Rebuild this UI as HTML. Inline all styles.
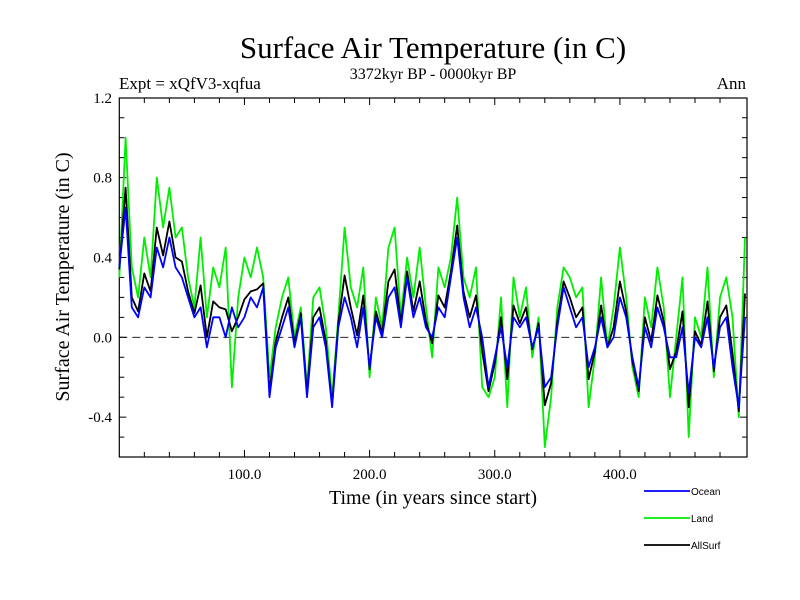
<!DOCTYPE html>
<html><head><meta charset="utf-8"><style>
body{margin:0;background:#fff}
svg{display:block}
</style></head><body>
<svg id="chart" width="800" height="600" xmlns="http://www.w3.org/2000/svg">
<text x="433" y="58" font-family="Liberation Serif, serif" font-size="31" text-anchor="middle">Surface Air Temperature (in C)</text>
<text x="433" y="79" font-family="Liberation Serif, serif" font-size="16" text-anchor="middle">3372kyr BP - 0000kyr BP</text>
<text x="119" y="89" font-family="Liberation Serif, serif" font-size="17">Expt = xQfV3-xqfua</text>
<text x="746" y="89" font-family="Liberation Serif, serif" font-size="17" text-anchor="end">Ann</text>
<text transform="translate(69,277) rotate(-90)" font-family="Liberation Serif, serif" font-size="20" text-anchor="middle">Surface Air Temperature (in C)</text>
<text x="433" y="504" font-family="Liberation Serif, serif" font-size="20" text-anchor="middle">Time (in years since start)</text>
<g id="axes"></g>
<g id="series"></g>
<g id="legend"></g>
</svg>
<script>
const years=[];for(let t=0;t<=500;t+=5)years.push(t);
const ocean=[0.35,0.65,0.15,0.1,0.25,0.2,0.45,0.35,0.5,0.35,
0.3,0.2,0.1,0.15,-0.05,0.1,0.1,0.0,0.15,0.05,
0.1,0.2,0.15,0.25,-0.3,-0.05,0.05,0.15,-0.05,0.1,
-0.3,0.05,0.1,-0.05,-0.35,0.05,0.2,0.1,-0.05,0.15,
-0.15,0.1,0.0,0.2,0.25,0.05,0.3,0.1,0.2,0.05,
0.0,0.15,0.1,0.3,0.5,0.2,0.05,0.15,0.0,-0.25,
-0.1,0.05,-0.15,0.1,0.05,0.1,-0.05,0.05,-0.25,-0.2,
0.05,0.25,0.15,0.05,0.1,-0.15,-0.05,0.1,-0.05,0.0,
0.2,0.1,-0.1,-0.25,0.05,-0.05,0.15,0.05,-0.1,-0.1,
0.05,-0.28,0.0,-0.05,0.1,-0.15,0.05,0.1,-0.15,-0.35,0.1];
const land=[0.3,1.0,0.35,0.2,0.5,0.3,0.8,0.55,0.75,0.5,
0.55,0.3,0.15,0.5,0.1,0.35,0.25,0.45,-0.25,0.2,
0.4,0.3,0.45,0.3,-0.2,0.05,0.2,0.3,0.0,0.15,
-0.25,0.2,0.25,0.05,-0.3,0.1,0.55,0.25,0.15,0.35,
-0.2,0.2,0.05,0.45,0.55,0.1,0.4,0.2,0.45,0.15,
-0.1,0.35,0.25,0.4,0.7,0.3,0.2,0.35,-0.25,-0.3,
-0.2,0.2,-0.35,0.3,0.1,0.25,-0.1,0.1,-0.55,-0.3,
0.15,0.35,0.3,0.2,0.25,-0.35,-0.1,0.3,-0.05,0.15,
0.45,0.2,-0.15,-0.3,0.2,0.05,0.35,0.15,-0.3,0.0,
0.3,-0.5,0.1,0.0,0.35,-0.2,0.2,0.3,0.1,-0.4,0.5];
const allSurf=[0.34,0.75,0.2,0.13,0.32,0.23,0.55,0.41,0.58,0.4,
0.38,0.23,0.12,0.26,0.0,0.18,0.15,0.14,0.03,0.1,
0.19,0.23,0.24,0.27,-0.27,-0.02,0.1,0.2,-0.03,0.12,
-0.28,0.1,0.15,-0.02,-0.34,0.07,0.31,0.15,0.01,0.21,
-0.16,0.13,0.02,0.28,0.34,0.07,0.33,0.13,0.28,0.08,
-0.03,0.21,0.15,0.33,0.56,0.23,0.1,0.21,-0.07,-0.27,
-0.13,0.1,-0.21,0.16,0.07,0.15,-0.06,0.07,-0.34,-0.23,
0.08,0.28,0.2,0.1,0.15,-0.21,-0.07,0.16,-0.05,0.05,
0.28,0.13,-0.12,-0.27,0.1,-0.02,0.21,0.08,-0.16,-0.07,
0.13,-0.35,0.03,-0.04,0.18,-0.17,0.1,0.16,-0.08,-0.37,0.22];
const xTicks=[100,200,300,400];
const xTickLabels=["100.0","200.0","300.0","400.0"];
const yTicks=[-0.4,0.0,0.4,0.8,1.2];
const yTickLabels=["-0.4","0.0","0.4","0.8","1.2"];
const legendNames=["Ocean","Land","AllSurf"];

const L=119.3,R=747,T=98,B=457;
const xs=v=>L+v*1.2515;
const ys=v=>337.3-v*199.6;
const NS="http://www.w3.org/2000/svg";
function mk(tag,attrs,parent){const e=document.createElementNS(NS,tag);for(const k in attrs)e.setAttribute(k,attrs[k]);parent.appendChild(e);return e;}
const axes=document.getElementById('axes');
const frame=mk('rect',{x:L,y:T,width:R-L,height:B-T,fill:'none',stroke:'#000','stroke-width':1.2},axes);


const zl=mk('line',{x1:L,x2:R,y1:ys(0),y2:ys(0),stroke:'#000','stroke-dasharray':'8,5','stroke-width':0.8},axes);


for(let t=20;t<500;t+=20){const maj=t%100===0;const len=maj?7:5;
 mk('line',{x1:xs(t),x2:xs(t),y1:B,y2:B-len,stroke:'#000'},axes);
 mk('line',{x1:xs(t),x2:xs(t),y1:T,y2:T+len,stroke:'#000'},axes);}
for(let i=-5;i<=11;i++){const v=i/10;const maj=(i%4===0);const len=maj?7:5;
 mk('line',{x1:L,x2:L+len,y1:ys(v),y2:ys(v),stroke:'#000'},axes);
 mk('line',{x1:R,x2:R-len,y1:ys(v),y2:ys(v),stroke:'#000'},axes);}
xTicks.forEach((t,i)=>{const e=mk('text',{x:xs(t),y:479,'font-family':'Liberation Serif, serif','font-size':15,'text-anchor':'middle'},axes);e.textContent=xTickLabels[i];
 
 });
yTicks.forEach((v,i)=>{const e=mk('text',{x:112,y:ys(v)+5,'font-family':'Liberation Serif, serif','font-size':15,'text-anchor':'end'},axes);e.textContent=yTickLabels[i];
 
 });
const series=document.getElementById('series');
function line(vals,color,name){const d=vals.map((v,i)=>(i?'L':'M')+xs(years[i]).toFixed(1)+','+ys(v).toFixed(1)).join('');
 const p=mk('path',{d:d,fill:'none',stroke:color,'stroke-width':1.8,'stroke-linejoin':'round'},series);
 
 }
line(land,'#00ee00','land-line');
line(allSurf,'#000000','allsurf-line');
line(ocean,'#0000ff','ocean-line');
const lg=document.getElementById('legend');
const lc=['#0000ff','#00ee00','#000000'];
legendNames.forEach((n,i)=>{const y=491+i*27;
 const g=mk('g',{},lg);
 
 
 mk('line',{x1:644,x2:690,y1:y,y2:y,stroke:lc[i],'stroke-width':1.8},g);
 const t=mk('text',{x:691,y:y+4,'font-family':'Liberation Sans, sans-serif','font-size':10},g);t.textContent=n;});
</script>
</body></html>
